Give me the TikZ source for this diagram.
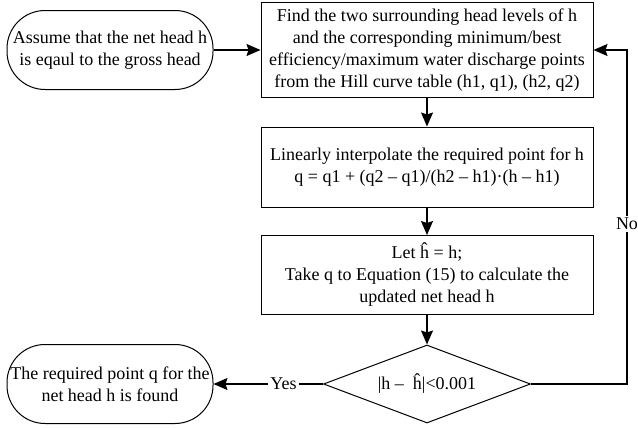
\documentclass[tikz,border=0pt]{standalone}
\usepackage{fontspec}
\setmainfont{Liberation Serif}
\usetikzlibrary{arrows.meta, shapes.geometric, positioning}

\begin{document}
\begin{tikzpicture}[x=0.5pt, y=-0.5pt,
   font=\fontsize{9}{11}\selectfont,
   procbox/.style={draw, line width=0.5pt, minimum width=166pt, align=center, inner sep=2pt},
   termbox/.style={draw, line width=0.5pt, rounded corners=19pt, minimum width=103pt, minimum height=39.5pt, align=center, inner sep=1pt},
   testbox/.style={draw, diamond, line width=0.5pt, minimum width=103.5pt, minimum height=39pt, inner sep=0pt, aspect=2.65},
   flow/.style={-{Stealth[length=7pt, width=6pt, inset=1pt]}, line width=0.7pt},
   tag/.style={fill=white, inner sep=1pt}]
            \useasboundingbox (0,0) rectangle (638,428);
            \node[termbox] (start) at (110,50) {Assume that the net head h\\is eqaul to the gross head};
            \node[procbox, minimum height=47.5pt] (find) at (427,50)
               {Find the two surrounding head levels of h\\and the corresponding minimum/best\\efficiency/maximum water discharge points\\from the Hill curve table (h1, q1), (h2, q2)};
            \node[procbox, minimum height=40pt] (interp) at (427,167)
               {Linearly interpolate the required point for h\\q = q1 + (q2 – q1)/(h2 – h1)·(h – h1)};
            \node[procbox, minimum height=39.5pt] (update) at (427,275)
               {Let ĥ = h;\\Take q to Equation (15) to calculate the\\updated net head h};
            \node[testbox] (check) at (427,384) {|h –\ \ ĥ|<0.001};
            \node[termbox] (found) at (110,384) {The required point q for the\\net head h is found};
            \coordinate (turn) at (627,50);
            \draw[flow] (start) -- (find);
            \draw[flow] (find) -- (interp);
            \draw[flow] (interp) -- (update);
            \draw[flow] (update) -- (check);
            \draw[flow] (check.west) -- node[tag, pos=0.36] {Yes} (found.east);
            \draw[flow] (check.east) -| node[tag, pos=0.74] {No} (turn) -- (find.east);
         \end{tikzpicture}
\end{document}
